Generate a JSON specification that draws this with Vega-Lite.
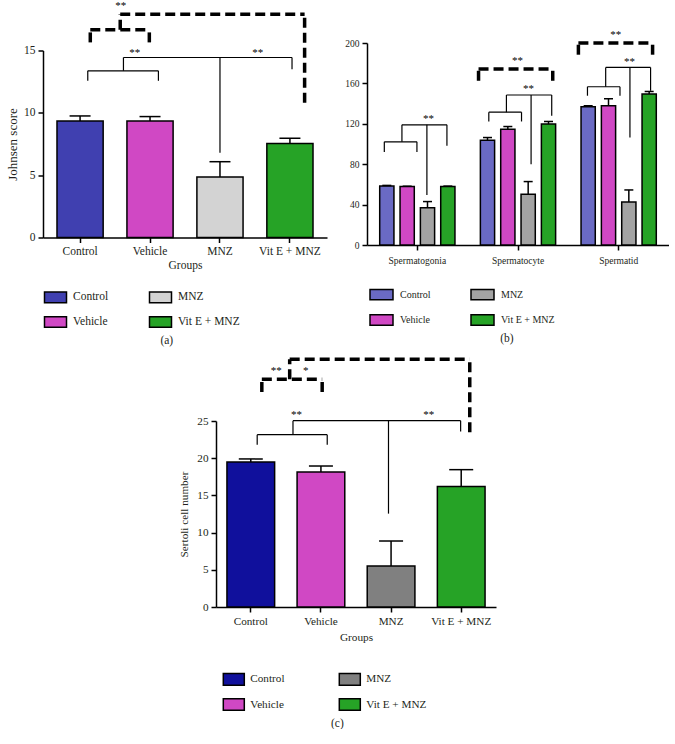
{
  "$schema": "https://vega.github.io/schema/vega-lite/v6.json",
  "padding": {"left": 6, "top": 0, "right": 0, "bottom": 0},
  "config": {
    "font": "Liberation Serif",
    "view": {"stroke": null},
    "axis": {"domainColor": "black", "domainWidth": 1.5, "tickColor": "black", "tickWidth": 1.5, "tickSize": 5, "labelColor": "#231f20", "titleColor": "#231f20", "labelFont": "Liberation Serif", "titleFont": "Liberation Serif", "titleFontWeight": "normal", "grid": false, "labelPadding": 3, "labelOverlap": false},
    "legend": {"labelFont": "Liberation Serif", "labelColor": "#231f20", "padding": 0, "offset": 0},
    "text": {"font": "Liberation Serif"},
    "title": {"font": "Liberation Serif", "fontWeight": "normal", "color": "#231f20"}
  },
  "datasets": {
    "a_bars": [
      {"group": "Control", "mean": 9.35, "hi": 9.75},
      {"group": "Vehicle", "mean": 9.35, "hi": 9.7},
      {"group": "MNZ", "mean": 4.85, "hi": 6.08},
      {"group": "Vit E + MNZ", "mean": 7.55, "hi": 7.96}
    ],
    "a_ann": [
      {"k": "s", "x1": 0.11, "x2": 1.12, "y1": 13.37, "y2": 13.37},
      {"k": "s", "x1": 0.11, "x2": 0.11, "y1": 12.57, "y2": 13.37},
      {"k": "s", "x1": 1.12, "x2": 1.12, "y1": 12.57, "y2": 13.37},
      {"k": "s", "x1": 0.62, "x2": 0.62, "y1": 13.37, "y2": 14.44},
      {"k": "s", "x1": 0.62, "x2": 3.03, "y1": 14.44, "y2": 14.44},
      {"k": "s", "x1": 2.0, "x2": 2.0, "y1": 6.8, "y2": 14.44},
      {"k": "s", "x1": 3.03, "x2": 3.03, "y1": 13.5, "y2": 14.44},
      {"k": "d", "x1": 0.146, "x2": 0.146, "y1": 15.65, "y2": 16.67},
      {"k": "d", "x1": 0.146, "x2": 0.99, "y1": 16.67, "y2": 16.67},
      {"k": "d", "x1": 0.99, "x2": 0.99, "y1": 15.65, "y2": 16.67},
      {"k": "d", "x1": 0.574, "x2": 0.574, "y1": 16.67, "y2": 17.9},
      {"k": "d", "x1": 0.574, "x2": 3.21, "y1": 17.9, "y2": 17.9},
      {"k": "d", "x1": 3.21, "x2": 3.21, "y1": 10.8, "y2": 17.9},
      {"k": "t", "x1": 0.78, "y1": 14.55, "label": "**"},
      {"k": "t", "x1": 2.54, "y1": 14.55, "label": "**"},
      {"k": "t", "x1": 0.58, "y1": 18.3, "label": "**"}
    ],
    "b_bars": [
      {"cell": "Spermatogonia", "group": "Control", "mean": 58.5, "hi": 59},
      {"cell": "Spermatogonia", "group": "Vehicle", "mean": 57.8, "hi": 58.2},
      {"cell": "Spermatogonia", "group": "MNZ", "mean": 37, "hi": 43},
      {"cell": "Spermatogonia", "group": "Vit E + MNZ", "mean": 57.8, "hi": 58.3},
      {"cell": "Spermatocyte", "group": "Control", "mean": 103.8, "hi": 106.4},
      {"cell": "Spermatocyte", "group": "Vehicle", "mean": 114.7, "hi": 117.3},
      {"cell": "Spermatocyte", "group": "MNZ", "mean": 50.3, "hi": 62.8},
      {"cell": "Spermatocyte", "group": "Vit E + MNZ", "mean": 119.7, "hi": 122.3},
      {"cell": "Spermatid", "group": "Control", "mean": 136.9, "hi": 137.9},
      {"cell": "Spermatid", "group": "Vehicle", "mean": 137.9, "hi": 144.8},
      {"cell": "Spermatid", "group": "MNZ", "mean": 42.6, "hi": 54.5},
      {"cell": "Spermatid", "group": "Vit E + MNZ", "mean": 149.4, "hi": 152}
    ],
    "b_ann": [
      {"k": "s", "x1": 0.172, "x2": 0.496, "y1": 102.2, "y2": 102.2},
      {"k": "s", "x1": 0.172, "x2": 0.172, "y1": 92.2, "y2": 102.2},
      {"k": "s", "x1": 0.496, "x2": 0.496, "y1": 92.2, "y2": 102.2},
      {"k": "s", "x1": 0.347, "x2": 0.347, "y1": 102.2, "y2": 119},
      {"k": "s", "x1": 0.347, "x2": 0.794, "y1": 119, "y2": 119},
      {"k": "s", "x1": 0.794, "x2": 0.794, "y1": 98.2, "y2": 119},
      {"k": "s", "x1": 0.595, "x2": 0.595, "y1": 49.6, "y2": 119},
      {"k": "s", "x1": 1.21, "x2": 1.535, "y1": 131.5, "y2": 131.5},
      {"k": "s", "x1": 1.21, "x2": 1.21, "y1": 122.3, "y2": 131.5},
      {"k": "s", "x1": 1.535, "x2": 1.535, "y1": 122.3, "y2": 131.5},
      {"k": "s", "x1": 1.385, "x2": 1.385, "y1": 131.5, "y2": 148.5},
      {"k": "s", "x1": 1.385, "x2": 1.835, "y1": 148.5, "y2": 148.5},
      {"k": "s", "x1": 1.835, "x2": 1.835, "y1": 128, "y2": 148.5},
      {"k": "s", "x1": 1.63, "x2": 1.63, "y1": 80, "y2": 148.5},
      {"k": "s", "x1": 2.19, "x2": 2.513, "y1": 156.7, "y2": 156.7},
      {"k": "s", "x1": 2.19, "x2": 2.19, "y1": 147.8, "y2": 156.7},
      {"k": "s", "x1": 2.513, "x2": 2.513, "y1": 147.8, "y2": 156.7},
      {"k": "s", "x1": 2.371, "x2": 2.371, "y1": 156.7, "y2": 175.8},
      {"k": "s", "x1": 2.371, "x2": 2.817, "y1": 175.8, "y2": 175.8},
      {"k": "s", "x1": 2.817, "x2": 2.817, "y1": 152.7, "y2": 175.8},
      {"k": "s", "x1": 2.612, "x2": 2.612, "y1": 106.4, "y2": 175.8},
      {"k": "d", "x1": 1.108, "x2": 1.108, "y1": 162.6, "y2": 174.2},
      {"k": "d", "x1": 1.108, "x2": 1.845, "y1": 174.2, "y2": 174.2},
      {"k": "d", "x1": 1.845, "x2": 1.845, "y1": 162.6, "y2": 174.2},
      {"k": "d", "x1": 2.1, "x2": 2.1, "y1": 188.4, "y2": 200},
      {"k": "d", "x1": 2.1, "x2": 2.837, "y1": 200, "y2": 200},
      {"k": "d", "x1": 2.837, "x2": 2.837, "y1": 188.4, "y2": 200},
      {"k": "t", "x1": 0.612, "y1": 121.5, "label": "**"},
      {"k": "t", "x1": 1.604, "y1": 151, "label": "**"},
      {"k": "t", "x1": 1.495, "y1": 179, "label": "**"},
      {"k": "t", "x1": 2.608, "y1": 178, "label": "**"},
      {"k": "t", "x1": 2.47, "y1": 204.5, "label": "**"}
    ],
    "c_bars": [
      {"group": "Control", "mean": 19.5, "hi": 19.9},
      {"group": "Vehicle", "mean": 18.15, "hi": 18.95},
      {"group": "MNZ", "mean": 5.5, "hi": 8.87},
      {"group": "Vit E + MNZ", "mean": 16.2, "hi": 18.46}
    ],
    "c_ann": [
      {"k": "s", "x1": 0.091, "x2": 1.089, "y1": 23.16, "y2": 23.16},
      {"k": "s", "x1": 0.091, "x2": 0.091, "y1": 21.8, "y2": 23.16},
      {"k": "s", "x1": 1.089, "x2": 1.089, "y1": 21.8, "y2": 23.16},
      {"k": "s", "x1": 0.601, "x2": 0.601, "y1": 23.16, "y2": 25.04},
      {"k": "s", "x1": 0.601, "x2": 2.99, "y1": 25.04, "y2": 25.04},
      {"k": "s", "x1": 2.99, "x2": 2.99, "y1": 23.6, "y2": 25.04},
      {"k": "s", "x1": 1.962, "x2": 1.962, "y1": 12.55, "y2": 25.04},
      {"k": "d", "x1": 0.157, "x2": 0.157, "y1": 28.9, "y2": 30.6},
      {"k": "d", "x1": 0.157, "x2": 1.017, "y1": 30.6, "y2": 30.6},
      {"k": "d", "x1": 1.017, "x2": 1.017, "y1": 28.9, "y2": 30.6},
      {"k": "d", "x1": 0.554, "x2": 0.554, "y1": 30.6, "y2": 33.3},
      {"k": "d", "x1": 0.554, "x2": 3.12, "y1": 33.3, "y2": 33.3},
      {"k": "d", "x1": 3.12, "x2": 3.12, "y1": 23.5, "y2": 33.3},
      {"k": "t", "x1": 0.65, "y1": 25.4, "label": "**"},
      {"k": "t", "x1": 2.535, "y1": 25.4, "label": "**"},
      {"k": "t", "x1": 0.364, "y1": 31.3, "label": "**"},
      {"k": "t", "x1": 0.783, "y1": 31.3, "label": "*"}
    ]
  },
  "resolve": {"scale": {"fill": "independent", "x": "independent", "y": "independent"}, "legend": {"fill": "independent"}, "axis": {"x": "independent", "y": "independent"}},
  "center": true,
  "spacing": 10,
  "vconcat": [
    {
      "hconcat": [
        {
          "width": 284, "height": 187,
          "title": {"text": "(a)", "orient": "bottom", "frame": "bounds", "anchor": "middle", "fontSize": 11.5, "offset": 4},
          "resolve": {"scale": {"x": "independent"}, "axis": {"x": "independent"}},
          "layer": [
            {
              "data": {"name": "a_bars"},
              "encoding": {
                "x": {"field": "group", "type": "nominal", "scale": {"domain": ["Control", "Vehicle", "MNZ", "Vit E + MNZ"], "paddingInner": 0.34, "paddingOuter": 0.2},
                      "axis": {"title": "Groups", "labelAngle": 0, "bandPosition": 0.5, "labelFont": "Liberation Serif", "titleFont": "Liberation Serif", "labelFontSize": 11.5, "titleFontSize": 11.5, "titlePadding": 2}}
              },
              "layer": [
                {"mark": {"type": "bar", "stroke": "black", "strokeWidth": 1.5, "clip": false},
                 "encoding": {
                   "y": {"field": "mean", "type": "quantitative", "scale": {"domain": [0, 15], "nice": false}, "axis": {"title": "Johnsen score", "values": [0, 5, 10, 15], "labelFontSize": 11.5, "titleFontSize": 13, "titlePadding": 4}},
                   "fill": {"field": "group", "type": "nominal", "scale": {"domain": ["Control", "Vehicle", "MNZ", "Vit E + MNZ"], "range": ["#4040b0", "#d048c4", "#d3d3d3", "#26a326"]},
                            "legend": {"orient": "none", "legendX": 0.5, "legendY": 234.5, "columns": 2, "columnPadding": 38, "rowPadding": 4, "symbolType": "M-1,-0.48H1V0.48H-1Z", "symbolSize": 484, "symbolStrokeColor": "black", "symbolStrokeWidth": 1.5, "symbolOpacity": 1, "labelFont": "Liberation Serif", "labelFontSize": 11.5, "labelOffset": 5.5, "title": null}}
                 }},
                {"mark": {"type": "rule", "color": "black", "strokeWidth": 1.5},
                 "encoding": {"y": {"field": "mean", "type": "quantitative", "scale": {"domain": [0, 15], "nice": false}, "axis": {"title": "Johnsen score", "values": [0, 5, 10, 15], "labelFontSize": 11.5, "titleFontSize": 13, "titlePadding": 4}}, "y2": {"field": "hi"}}},
                {"mark": {"type": "tick", "orient": "horizontal", "size": 21, "thickness": 1.5, "color": "black", "opacity": 1},
                 "encoding": {"y": {"field": "hi", "type": "quantitative", "scale": {"domain": [0, 15], "nice": false}, "axis": {"title": "Johnsen score", "values": [0, 5, 10, 15], "labelFontSize": 11.5, "titleFontSize": 13, "titlePadding": 4}}}}
              ]
            },
            {
              "data": {"name": "a_ann"},
              "layer": [
                {"transform": [{"filter": "datum.k == 's'"}],
                 "mark": {"type": "rule", "color": "black", "strokeWidth": 1.2, "clip": false},
                 "encoding": {"x": {"field": "x1", "type": "quantitative", "scale": {"domain": [-0.53, 3.53], "nice": false, "zero": false}, "axis": null}, "x2": {"field": "x2"},
                              "y": {"field": "y1", "type": "quantitative", "scale": {"domain": [0, 15], "nice": false}, "axis": {"title": "Johnsen score", "values": [0, 5, 10, 15], "labelFontSize": 11.5, "titleFontSize": 13, "titlePadding": 4}}, "y2": {"field": "y2"}}},
                {"transform": [{"filter": "datum.k == 'd'"}],
                 "mark": {"type": "rule", "color": "black", "strokeWidth": 3.5, "strokeDash": [10, 5], "clip": false},
                 "encoding": {"x": {"field": "x1", "type": "quantitative", "scale": {"domain": [-0.53, 3.53], "nice": false, "zero": false}, "axis": null}, "x2": {"field": "x2"},
                              "y": {"field": "y1", "type": "quantitative", "scale": {"domain": [0, 15], "nice": false}, "axis": {"title": "Johnsen score", "values": [0, 5, 10, 15], "labelFontSize": 11.5, "titleFontSize": 13, "titlePadding": 4}}, "y2": {"field": "y2"}}},
                {"transform": [{"filter": "datum.k == 't'"}],
                 "mark": {"type": "text", "font": "Liberation Serif", "fontSize": 11, "align": "center", "baseline": "alphabetic", "fill": "#000000", "clip": false},
                 "encoding": {"x": {"field": "x1", "type": "quantitative", "scale": {"domain": [-0.53, 3.53], "nice": false, "zero": false}, "axis": null},
                              "y": {"field": "y1", "type": "quantitative", "scale": {"domain": [0, 15], "nice": false}, "axis": {"title": "Johnsen score", "values": [0, 5, 10, 15], "labelFontSize": 11.5, "titleFontSize": 13, "titlePadding": 4}}, "text": {"field": "label"}}}
              ]
            }
          ]
        },
        {
          "width": 302, "height": 202,
          "title": {"text": "(b)", "orient": "bottom", "frame": "bounds", "anchor": "middle", "fontSize": 11.5, "offset": 4},
          "resolve": {"scale": {"x": "independent"}, "axis": {"x": "independent"}},
          "layer": [
            {
              "data": {"name": "b_bars"},
              "encoding": {
                "x": {"field": "cell", "type": "nominal", "scale": {"domain": ["Spermatogonia", "Spermatocyte", "Spermatid"], "paddingInner": 0, "paddingOuter": 0},
                      "axis": {"title": null, "labelAngle": 0, "bandPosition": 0.5, "labelFont": "Liberation Serif", "labelFontSize": 9.5, "labelPadding": 5}},
                "xOffset": {"field": "group", "type": "nominal", "scale": {"domain": ["Control", "Vehicle", "MNZ", "Vit E + MNZ"], "paddingInner": 0.3, "paddingOuter": 0.625}}
              },
              "layer": [
                {"mark": {"type": "bar", "stroke": "black", "strokeWidth": 1.5, "clip": false},
                 "encoding": {
                   "y": {"field": "mean", "type": "quantitative", "scale": {"domain": [0, 200], "nice": false}, "axis": {"title": null, "values": [0, 40, 80, 120, 160, 200], "labelFontSize": 9.5}},
                   "fill": {"field": "group", "type": "nominal", "scale": {"domain": ["Control", "Vehicle", "MNZ", "Vit E + MNZ"], "range": ["#6a6ac4", "#d048c4", "#a3a3a3", "#26a326"]},
                            "legend": {"orient": "none", "legendX": 2, "legendY": 239, "columns": 2, "columnPadding": 37, "rowPadding": 4.5, "symbolType": "M-1,-0.45H1V0.45H-1Z", "symbolSize": 529, "symbolStrokeColor": "black", "symbolStrokeWidth": 1.5, "symbolOpacity": 1, "labelFont": "Liberation Serif", "labelFontSize": 10, "labelOffset": 6, "title": null}}
                 }},
                {"mark": {"type": "rule", "color": "black", "strokeWidth": 1.5},
                 "encoding": {"y": {"field": "mean", "type": "quantitative", "scale": {"domain": [0, 200], "nice": false}, "axis": {"title": null, "values": [0, 40, 80, 120, 160, 200], "labelFontSize": 9.5}}, "y2": {"field": "hi"}}},
                {"mark": {"type": "tick", "orient": "horizontal", "size": 9, "thickness": 1.5, "color": "black", "opacity": 1},
                 "encoding": {"y": {"field": "hi", "type": "quantitative", "scale": {"domain": [0, 200], "nice": false}, "axis": {"title": null, "values": [0, 40, 80, 120, 160, 200], "labelFontSize": 9.5}}}}
              ]
            },
            {
              "data": {"name": "b_ann"},
              "layer": [
                {"transform": [{"filter": "datum.k == 's'"}],
                 "mark": {"type": "rule", "color": "black", "strokeWidth": 1.2, "clip": false},
                 "encoding": {"x": {"field": "x1", "type": "quantitative", "scale": {"domain": [0, 3], "nice": false, "zero": false}, "axis": null}, "x2": {"field": "x2"},
                              "y": {"field": "y1", "type": "quantitative", "scale": {"domain": [0, 200], "nice": false}, "axis": {"title": null, "values": [0, 40, 80, 120, 160, 200], "labelFontSize": 9.5}}, "y2": {"field": "y2"}}},
                {"transform": [{"filter": "datum.k == 'd'"}],
                 "mark": {"type": "rule", "color": "black", "strokeWidth": 3.5, "strokeDash": [10, 5], "clip": false},
                 "encoding": {"x": {"field": "x1", "type": "quantitative", "scale": {"domain": [0, 3], "nice": false, "zero": false}, "axis": null}, "x2": {"field": "x2"},
                              "y": {"field": "y1", "type": "quantitative", "scale": {"domain": [0, 200], "nice": false}, "axis": {"title": null, "values": [0, 40, 80, 120, 160, 200], "labelFontSize": 9.5}}, "y2": {"field": "y2"}}},
                {"transform": [{"filter": "datum.k == 't'"}],
                 "mark": {"type": "text", "font": "Liberation Serif", "fontSize": 11, "align": "center", "baseline": "alphabetic", "fill": "#000000", "clip": false},
                 "encoding": {"x": {"field": "x1", "type": "quantitative", "scale": {"domain": [0, 3], "nice": false, "zero": false}, "axis": null},
                              "y": {"field": "y1", "type": "quantitative", "scale": {"domain": [0, 200], "nice": false}, "axis": {"title": null, "values": [0, 40, 80, 120, 160, 200], "labelFontSize": 9.5}}, "text": {"field": "label"}}}
              ]
            }
          ]
        }
      ],
      "bounds": "flush",
      "center": true,
      "spacing": 40,
      "resolve": {"scale": {"fill": "independent", "x": "independent", "y": "independent"}, "legend": {"fill": "independent"}, "axis": {"x": "independent", "y": "independent"}}
    },
    {
      "width": 280, "height": 186,
      "title": {"text": "(c)", "orient": "bottom", "frame": "bounds", "anchor": "middle", "fontSize": 11.5, "offset": 4},
      "resolve": {"scale": {"x": "independent"}, "axis": {"x": "independent"}},
      "layer": [
        {
          "data": {"name": "c_bars"},
          "encoding": {
            "x": {"field": "group", "type": "nominal", "scale": {"domain": ["Control", "Vehicle", "MNZ", "Vit E + MNZ"], "paddingInner": 0.32, "paddingOuter": 0.156},
                  "axis": {"title": "Groups", "labelAngle": 0, "bandPosition": 0.5, "labelFont": "Liberation Serif", "titleFont": "Liberation Serif", "labelFontSize": 11.2, "titleFontSize": 11.3, "titlePadding": 5}}
          },
          "layer": [
            {"mark": {"type": "bar", "stroke": "black", "strokeWidth": 1.5, "clip": false},
             "encoding": {
               "y": {"field": "mean", "type": "quantitative", "scale": {"domain": [0, 25], "nice": false}, "axis": {"title": "Sertoli cell number", "values": [0, 5, 10, 15, 20, 25], "labelFontSize": 11.2, "titleFontSize": 11.2, "titlePadding": 7}},
               "fill": {"field": "group", "type": "nominal", "scale": {"domain": ["Control", "Vehicle", "MNZ", "Vit E + MNZ"], "range": ["#10109c", "#d048c4", "#808080", "#26a326"]},
                        "legend": {"orient": "none", "legendX": 6.3, "legendY": 246.5, "columns": 2, "columnPadding": 51, "rowPadding": 4.5, "symbolType": "M-1,-0.55H1V0.55H-1Z", "symbolSize": 441, "symbolStrokeColor": "black", "symbolStrokeWidth": 1.5, "symbolOpacity": 1, "labelFont": "Liberation Serif", "labelFontSize": 11.2, "labelOffset": 5, "title": null}}
             }},
            {"mark": {"type": "rule", "color": "black", "strokeWidth": 1.5},
             "encoding": {"y": {"field": "mean", "type": "quantitative", "scale": {"domain": [0, 25], "nice": false}, "axis": {"title": "Sertoli cell number", "values": [0, 5, 10, 15, 20, 25], "labelFontSize": 11.2, "titleFontSize": 11.2, "titlePadding": 7}}, "y2": {"field": "hi"}}},
            {"mark": {"type": "tick", "orient": "horizontal", "size": 24, "thickness": 1.5, "color": "black", "opacity": 1},
             "encoding": {"y": {"field": "hi", "type": "quantitative", "scale": {"domain": [0, 25], "nice": false}, "axis": {"title": "Sertoli cell number", "values": [0, 5, 10, 15, 20, 25], "labelFontSize": 11.2, "titleFontSize": 11.2, "titlePadding": 7}}}}
          ]
        },
        {
          "data": {"name": "c_ann"},
          "layer": [
            {"transform": [{"filter": "datum.k == 's'"}],
             "mark": {"type": "rule", "color": "black", "strokeWidth": 1.2, "clip": false},
             "encoding": {"x": {"field": "x1", "type": "quantitative", "scale": {"domain": [-0.496, 3.494], "nice": false, "zero": false}, "axis": null}, "x2": {"field": "x2"},
                          "y": {"field": "y1", "type": "quantitative", "scale": {"domain": [0, 25], "nice": false}, "axis": {"title": "Sertoli cell number", "values": [0, 5, 10, 15, 20, 25], "labelFontSize": 11.2, "titleFontSize": 11.2, "titlePadding": 7}}, "y2": {"field": "y2"}}},
            {"transform": [{"filter": "datum.k == 'd'"}],
             "mark": {"type": "rule", "color": "black", "strokeWidth": 3.5, "strokeDash": [10, 5], "clip": false},
             "encoding": {"x": {"field": "x1", "type": "quantitative", "scale": {"domain": [-0.496, 3.494], "nice": false, "zero": false}, "axis": null}, "x2": {"field": "x2"},
                          "y": {"field": "y1", "type": "quantitative", "scale": {"domain": [0, 25], "nice": false}, "axis": {"title": "Sertoli cell number", "values": [0, 5, 10, 15, 20, 25], "labelFontSize": 11.2, "titleFontSize": 11.2, "titlePadding": 7}}, "y2": {"field": "y2"}}},
            {"transform": [{"filter": "datum.k == 't'"}],
             "mark": {"type": "text", "font": "Liberation Serif", "fontSize": 11, "align": "center", "baseline": "alphabetic", "fill": "#000000", "clip": false},
             "encoding": {"x": {"field": "x1", "type": "quantitative", "scale": {"domain": [-0.496, 3.494], "nice": false, "zero": false}, "axis": null},
                          "y": {"field": "y1", "type": "quantitative", "scale": {"domain": [0, 25], "nice": false}, "axis": {"title": "Sertoli cell number", "values": [0, 5, 10, 15, 20, 25], "labelFontSize": 11.2, "titleFontSize": 11.2, "titlePadding": 7}}, "text": {"field": "label"}}}
          ]
        }
      ]
    }
  ]
}
